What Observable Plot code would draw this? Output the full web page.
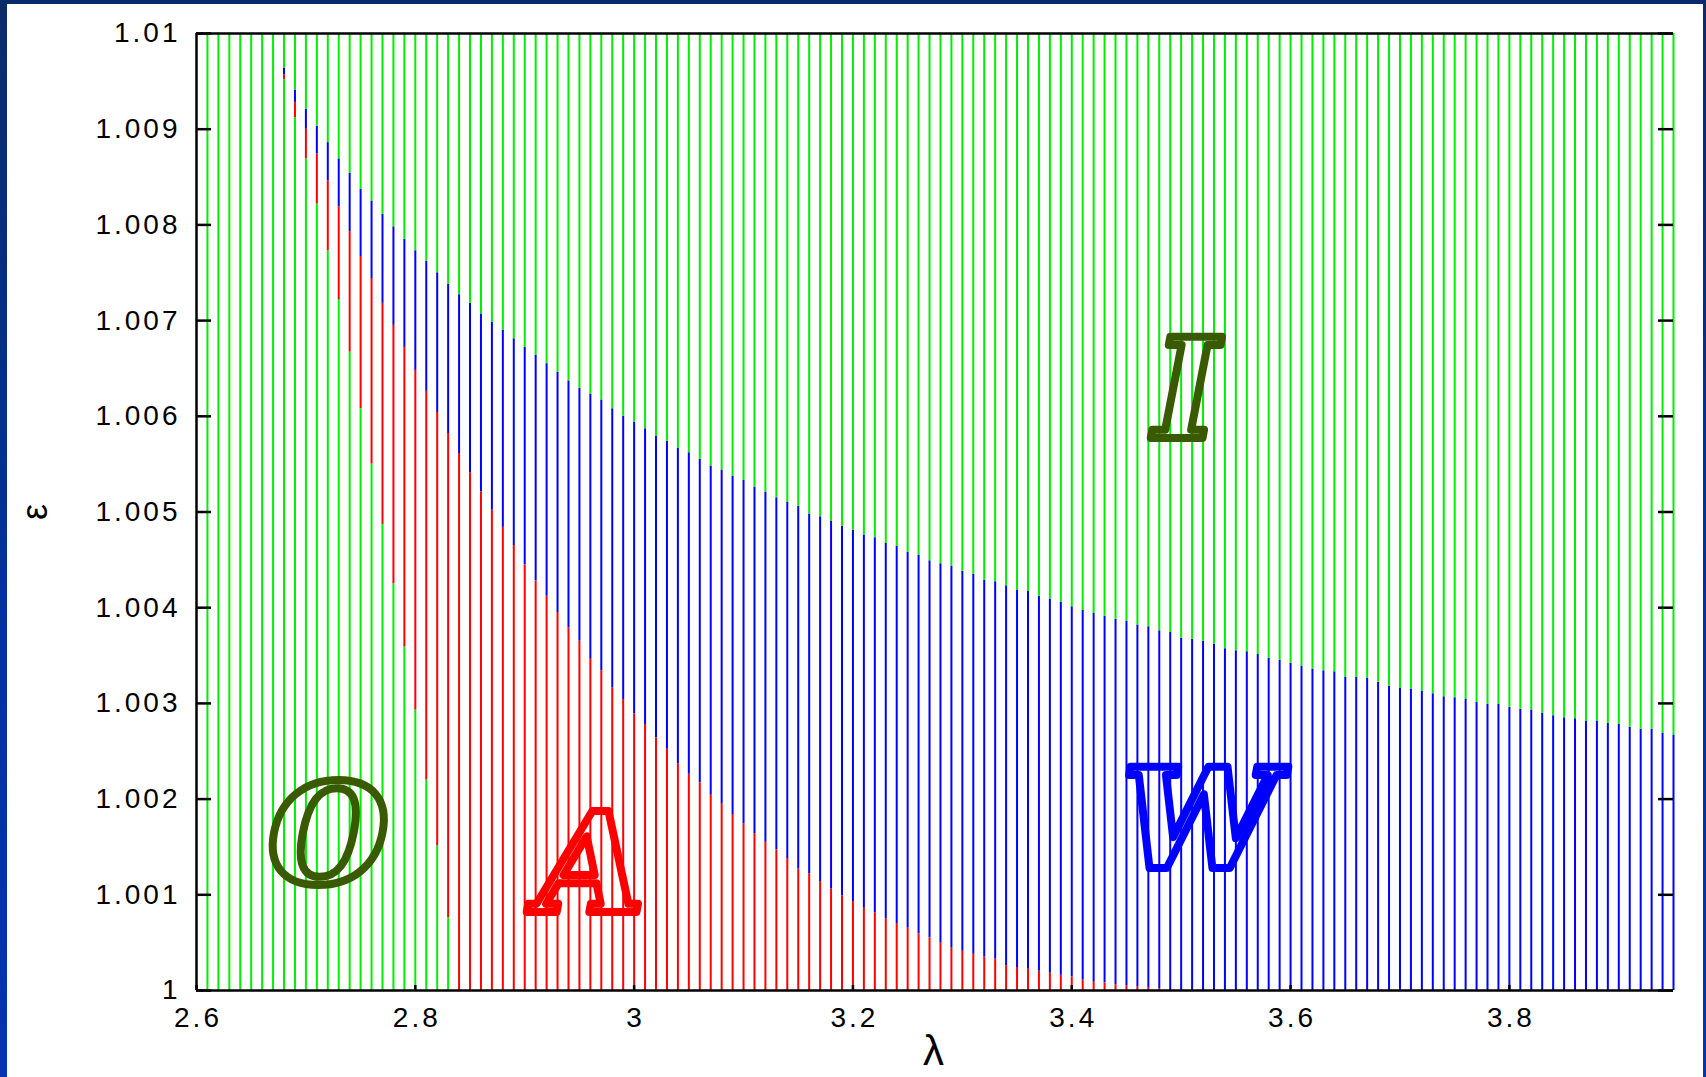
<!DOCTYPE html>
<html>
<head>
<meta charset="utf-8">
<script src="https://cdn.jsdelivr.net/npm/d3@7"></script>
<script src="https://cdn.jsdelivr.net/npm/@observablehq/plot@0.6"></script>
<style>
  html, body { margin: 0; padding: 0; }
  body {
    width: 1706px; height: 1077px; overflow: hidden; position: relative;
    background: linear-gradient(180deg, #0b2a6c 0%, #0231a0 55%, #0336ac 100%);
  }
  #panel { position: absolute; left: 7px; top: 4px; width: 1696px; height: 1073px; background: #fff; }
</style>
</head>
<body>
<div id="panel"></div>
<script>
// Sampled control parameter lambda (one vertical line per value)
const lambda = [
  2.61, 2.62, 2.63, 2.64, 2.65, 2.66, 2.67, 2.68, 2.69, 2.70,
  2.71, 2.72, 2.73, 2.74, 2.75, 2.76, 2.77, 2.78, 2.79, 2.80,
  2.81, 2.82, 2.83, 2.84, 2.85, 2.86, 2.87, 2.88, 2.89, 2.90,
  2.91, 2.92, 2.93, 2.94, 2.95, 2.96, 2.97, 2.98, 2.99, 3.00,
  3.01, 3.02, 3.03, 3.04, 3.05, 3.06, 3.07, 3.08, 3.09, 3.10,
  3.11, 3.12, 3.13, 3.14, 3.15, 3.16, 3.17, 3.18, 3.19, 3.20,
  3.21, 3.22, 3.23, 3.24, 3.25, 3.26, 3.27, 3.28, 3.29, 3.30,
  3.31, 3.32, 3.33, 3.34, 3.35, 3.36, 3.37, 3.38, 3.39, 3.40,
  3.41, 3.42, 3.43, 3.44, 3.45, 3.46, 3.47, 3.48, 3.49, 3.50,
  3.51, 3.52, 3.53, 3.54, 3.55, 3.56, 3.57, 3.58, 3.59, 3.60,
  3.61, 3.62, 3.63, 3.64, 3.65, 3.66, 3.67, 3.68, 3.69, 3.70,
  3.71, 3.72, 3.73, 3.74, 3.75, 3.76, 3.77, 3.78, 3.79, 3.80,
  3.81, 3.82, 3.83, 3.84, 3.85, 3.86, 3.87, 3.88, 3.89, 3.90,
  3.91, 3.92, 3.93, 3.94, 3.95
];

// Boundary O -> A (top of the lower green O region); null where no transition occurs
const epsOA = [
  null, null, null, null, null, null, null, 1.00952, 1.00912, 1.00869,
  1.00822, 1.00773, 1.00722, 1.00667, 1.00608, 1.00550, 1.00487, 1.00425, 1.00359, 1.00293,
  1.00220, 1.00151, 1.00076, 1, 1, 1, 1, 1, 1, 1,
  1, 1, 1, 1, 1, 1, 1, 1, 1, 1,
  1, 1, 1, 1, 1, 1, 1, 1, 1, 1,
  1, 1, 1, 1, 1, 1, 1, 1, 1, 1,
  1, 1, 1, 1, 1, 1, 1, 1, 1, 1,
  1, 1, 1, 1, 1, 1, 1, 1, 1, 1,
  1, 1, 1, 1, 1, 1, 1, 1, 1, 1,
  1, 1, 1, 1, 1, 1, 1, 1, 1, 1,
  1, 1, 1, 1, 1, 1, 1, 1, 1, 1,
  1, 1, 1, 1, 1, 1, 1, 1, 1, 1,
  1, 1, 1, 1, 1, 1, 1, 1, 1, 1,
  1, 1, 1, 1, 1
];

// Boundary A -> W (top of the red A region)
const epsAW = [
  null, null, null, null, null, null, null, 1.00957, 1.00928, 1.00900,
  1.00874, 1.00846, 1.00819, 1.00793, 1.00767, 1.00744, 1.00718, 1.00695, 1.00672, 1.00648,
  1.00626, 1.00604, 1.00582, 1.00561, 1.00541, 1.00521, 1.00502, 1.00484, 1.00465, 1.00445,
  1.00428, 1.00412, 1.00395, 1.00379, 1.00365, 1.00347, 1.00334, 1.00316, 1.00304, 1.00289,
  1.00278, 1.00264, 1.00252, 1.00237, 1.00226, 1.00217, 1.00204, 1.00195, 1.00184, 1.00174,
  1.00164, 1.00155, 1.00147, 1.00138, 1.00127, 1.00122, 1.00114, 1.00106, 1.00099, 1.00093,
  1.00086, 1.00081, 1.00075, 1.00070, 1.00065, 1.00059, 1.00055, 1.00050, 1.00045, 1.00041,
  1.00038, 1.00035, 1.00033, 1.00026, 1.00024, 1.00023, 1.00020, 1.00018, 1.00016, 1.00014,
  1.00011, 1.00009, 1.00008, 1.00006, 1.00005, 1.00004, 1.00003, 1.00002, 1, 1,
  1, 1, 1, 1, 1, 1, 1, 1, 1, 1,
  1, 1, 1, 1, 1, 1, 1, 1, 1, 1,
  1, 1, 1, 1, 1, 1, 1, 1, 1, 1,
  1, 1, 1, 1, 1, 1, 1, 1, 1, 1,
  1, 1, 1, 1, 1
];

// Boundary W -> I (top of the blue W region)
const epsWI = [
  null, null, null, null, null, null, null, 1.00964, 1.00941, 1.00921,
  1.00903, 1.00886, 1.00869, 1.00854, 1.00837, 1.00825, 1.00811, 1.00798, 1.00785, 1.00773,
  1.00762, 1.00750, 1.00738, 1.00727, 1.00718, 1.00707, 1.00698, 1.00690, 1.00681, 1.00672,
  1.00664, 1.00655, 1.00646, 1.00637, 1.00629, 1.00623, 1.00617, 1.00608, 1.00600, 1.00594,
  1.00587, 1.00579, 1.00574, 1.00567, 1.00562, 1.00555, 1.00548, 1.00544, 1.00537, 1.00533,
  1.00526, 1.00521, 1.00515, 1.00510, 1.00506, 1.00498, 1.00495, 1.00490, 1.00485, 1.00481,
  1.00476, 1.00473, 1.00467, 1.00464, 1.00458, 1.00455, 1.00449, 1.00446, 1.00443, 1.00438,
  1.00435, 1.00429, 1.00427, 1.00423, 1.00418, 1.00417, 1.00412, 1.00409, 1.00406, 1.00401,
  1.00397, 1.00394, 1.00391, 1.00388, 1.00386, 1.00382, 1.00380, 1.00376, 1.00374, 1.00368,
  1.00367, 1.00365, 1.00362, 1.00357, 1.00355, 1.00354, 1.00351, 1.00347, 1.00345, 1.00342,
  1.00339, 1.00336, 1.00334, 1.00333, 1.00327, 1.00327, 1.00326, 1.00322, 1.00318, 1.00316,
  1.00315, 1.00313, 1.00310, 1.00307, 1.00306, 1.00304, 1.00301, 1.00299, 1.00299, 1.00296,
  1.00294, 1.00293, 1.00290, 1.00287, 1.00285, 1.00284, 1.00281, 1.00281, 1.00279, 1.00278,
  1.00275, 1.00273, 1.00273, 1.00269, 1.00267
];

// Axis ticks
const xTicks = [2.6, 2.8, 3.0, 3.2, 3.4, 3.6, 3.8];
const yTicks = [1, 1.001, 1.002, 1.003, 1.004, 1.005, 1.006, 1.007, 1.008, 1.009, 1.01];

// Region labels
const regionNames = ["O", "A", "W", "I"];
const regionLambda = [2.722, 2.962, 3.518, 3.506];
const regionEps = [1.00158, 1.00128, 1.00174, 1.00623];
const regionColors = ["#3a5a00", "#ff0000", "#0000ff", "#3a5a00"];

const EPS_MIN = 1, EPS_MAX = 1.01;
const GREEN = "#00ee00", RED = "#ff0000", BLUE = "#0000ff";

// Split each vertical line into coloured stretches between the boundaries
const segments = [];
lambda.forEach((l, i) => {
  const oa = epsOA[i], aw = epsAW[i], wi = epsWI[i];
  if (wi == null) {
    segments.push({lambda: l, y1: EPS_MIN, y2: EPS_MAX, color: GREEN});
    return;
  }
  const parts = [
    [EPS_MIN, oa, GREEN],
    [oa, aw, RED],
    [aw, wi, BLUE],
    [wi, EPS_MAX, GREEN]
  ];
  for (const [a, b, c] of parts) if (b > a) segments.push({lambda: l, y1: a, y2: b, color: c});
});

const fmt = d => String(+d.toFixed(3));

const W = 1696, H = 1073;
const mL = 189, mT = 29, mR = 30, mB = 87;
const innerW = W - mL - mR;
const innerH = H - mT - mB;

const chart = Plot.plot({
  width: W,
  height: H,
  marginLeft: mL,
  marginTop: mT,
  marginRight: mR,
  marginBottom: mB,
  x: {domain: [2.6, 3.95]},
  y: {domain: [EPS_MIN, EPS_MAX]},
  style: {
    fontFamily: "'Liberation Sans', Arial, sans-serif",
    fontSize: "28px",
    background: "white",
    color: "black",
    letterSpacing: "3px"
  },
  marks: [
    Plot.ruleX(segments, {x: "lambda", y1: "y1", y2: "y2", stroke: "color", strokeWidth: 2}),
    Plot.ruleY([EPS_MIN, EPS_MAX], {stroke: "black", strokeWidth: 2.5}),
    Plot.ruleX([2.6], {stroke: "black", strokeWidth: 2.5}),
    Plot.tickY(yTicks, {y: d => d, insetRight: innerW - 15, stroke: "black", strokeWidth: 2.5}),
    Plot.tickY(yTicks, {y: d => d, insetLeft: innerW - 15, stroke: "black", strokeWidth: 2.5}),
    Plot.tickX(xTicks, {x: d => d, insetTop: innerH - 5, stroke: "black", strokeWidth: 2.5}),
    Plot.axisY(yTicks, {tickSize: 0, tickPadding: 16, tickFormat: fmt, label: null}),
    Plot.axisX(xTicks, {tickSize: 0, tickPadding: 17, tickFormat: fmt, label: null, dx: 1.5}),
    Plot.text(regionNames, {
      x: (d, i) => regionLambda[i],
      y: (d, i) => regionEps[i],
      text: d => d,
      fill: "none",
      stroke: (d, i) => regionColors[i],
      strokeWidth: 8,
      strokeLinejoin: "round",
      fontFamily: "'DejaVu Serif', serif",
      fontWeight: "bold",
      fontStyle: "italic",
      fontSize: 138,
      letterSpacing: "0px"
    }),
    Plot.text(["λ"], {frameAnchor: "bottom", dy: 74, fontSize: 42, fill: "black", letterSpacing: "0px"}),
    Plot.text(["ε"], {frameAnchor: "left", dx: -161, dy: 8, rotate: -90, fontSize: 36, fill: "black", letterSpacing: "0px"})
  ]
});

document.getElementById("panel").appendChild(chart);
</script>
</body>
</html>
